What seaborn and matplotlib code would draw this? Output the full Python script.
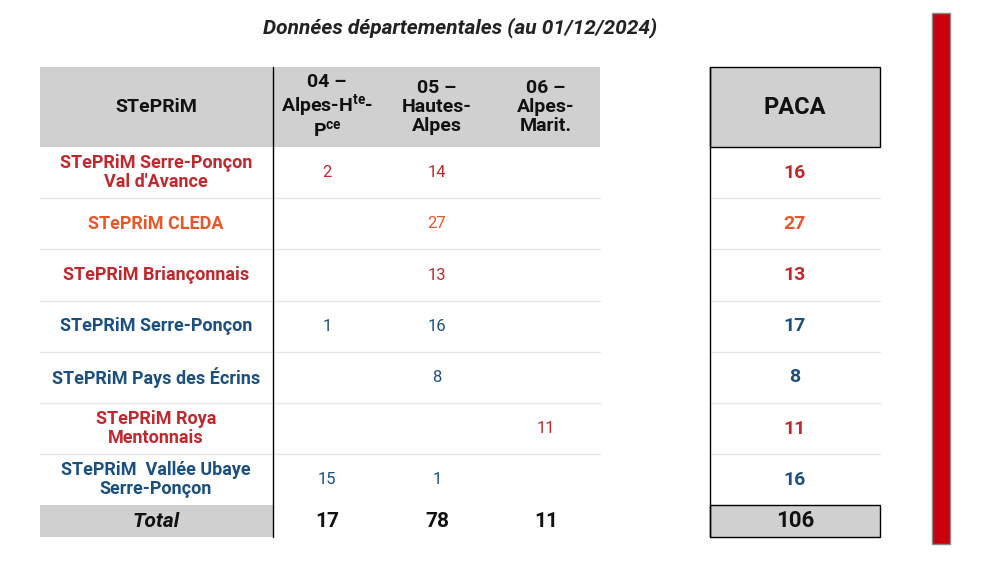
import matplotlib
matplotlib.use("Agg")
import matplotlib.pyplot as plt
import seaborn as sns
from matplotlib.patches import Rectangle

sns.set_theme(style="white")
FONT = "Liberation Sans Narrow"
plt.rcParams["font.family"] = [FONT, "Roboto", "DejaVu Sans"]

title = "Données départementales (au 01/12/2024)"
col_headers = ["04 –\nAlpes-H$^{\\mathregular{te}}$-\nP$^{\\mathregular{ce}}$", "05 –\nHautes-\nAlpes", "06 –\nAlpes-\nMarit."]
row_labels = ["STePRiM Serre-Ponçon\nVal d'Avance", "STePRiM CLEDA", "STePRiM Briançonnais",
              "STePRiM Serre-Ponçon", "STePRiM Pays des Écrins", "STePRiM Roya\nMentonnais",
              "STePRiM  Vallée Ubaye\nSerre-Ponçon"]
v04 = [2, None, None, 1, None, None, 15]
v05 = [14, 27, 13, 16, 8, None, 1]
v06 = [None, None, None, None, None, 11, None]
paca = [16, 27, 13, 17, 8, 11, 16]
totals = [17, 78, 11]
paca_total = 106
row_colors = ["#C0282D", "#E8572A", "#C0282D", "#1B4F80", "#1B4F80", "#C0282D", "#1B4F80"]

fig = plt.figure(figsize=(9.98, 5.71), dpi=100)
ax = fig.add_axes([0, 0, 1, 1])
ax.set_xlim(0, 998); ax.set_ylim(571, 0); ax.axis("off")

gray = "#D0D0D0"
ax.text(460, 28, title, ha="center", va="center", fontsize=15, fontweight="bold", style="italic", color="#222")
# header
ax.add_patch(Rectangle((40, 67), 560, 80, color=gray, lw=0))
ax.add_patch(Rectangle((710, 67), 170, 80, facecolor=gray, edgecolor="black", lw=1))
ax.text(156, 107, "STePRiM", ha="center", va="center", fontsize=14, fontweight="bold", color="#111")
cx = [327, 437, 546]
for x, h in zip(cx, col_headers):
    ax.text(x, 107, h, ha="center", va="center", fontsize=14, fontweight="bold", color="#111", linespacing=1.05)
ax.text(795, 107, "PACA", ha="center", va="center", fontsize=17, fontweight="bold", color="#111")

top, rh = 147, 51.2
for i, lab in enumerate(row_labels):
    yc = top + rh * (i + 0.5)
    c = row_colors[i]
    ax.text(156, yc, lab, ha="center", va="center", fontsize=13, fontweight="bold", color=c, linespacing=1.1)
    for x, arr in zip(cx, [v04, v05, v06]):
        if arr[i] is not None:
            ax.text(x, yc, str(arr[i]), ha="center", va="center", fontsize=12, color=c)
    ax.text(795, yc, str(paca[i]), ha="center", va="center", fontsize=14, fontweight="bold", color=c)
    if i < len(row_labels) - 1:
        yb = top + rh * (i + 1)
        ax.plot([40, 600], [yb, yb], color="#E6E6E6", lw=1)
        ax.plot([710, 880], [yb, yb], color="#E6E6E6", lw=1)
ty0 = top + rh * 7
ax.add_patch(Rectangle((40, ty0), 233, 537 - ty0, color=gray, lw=0))
ax.add_patch(Rectangle((710, ty0), 170, 537 - ty0, facecolor=gray, edgecolor="black", lw=1))
tyc = (ty0 + 537) / 2
ax.text(156, tyc, "Total", ha="center", va="center", fontsize=15, fontweight="bold", style="italic", color="#111")
for x, t in zip(cx, totals):
    ax.text(x, tyc, str(t), ha="center", va="center", fontsize=15, fontweight="bold", color="#111")
ax.text(795, tyc, str(paca_total), ha="center", va="center", fontsize=16, fontweight="bold", color="#111")
ax.plot([273, 273], [67, 537], color="black", lw=1)
ax.plot([710, 710], [67, 537], color="black", lw=1)
ax.add_patch(Rectangle((932, 13), 18, 531, facecolor="#C8000F", edgecolor="#888", lw=1))
fig.savefig("out.png", dpi=100)
